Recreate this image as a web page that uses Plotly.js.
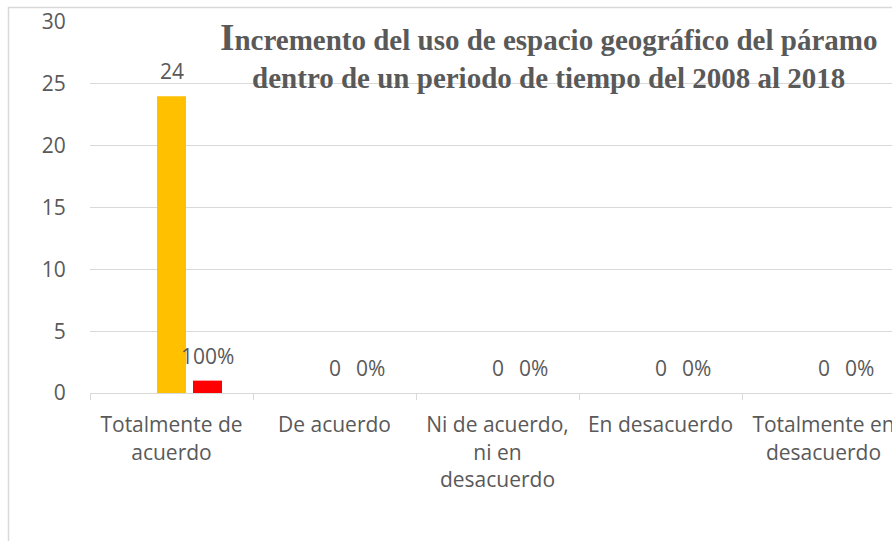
<!DOCTYPE html>
<html>
<head>
<meta charset="utf-8">
<script src="https://cdn.plot.ly/plotly-3.0.1.min.js"></script>
<style>
html,body{margin:0;padding:0;background:#fff;overflow:hidden;width:892px;height:541px;}
#chart{width:920px;height:541px;}
</style>
</head>
<body>
<div id="chart"></div>
<script>
// Data
var categories = ["Totalmente de acuerdo", "De acuerdo", "Ni de acuerdo, ni en desacuerdo", "En desacuerdo", "Totalmente en desacuerdo"];
var tickLabels = ["Totalmente de<br>acuerdo", "De acuerdo", "Ni de acuerdo,<br>ni en<br>desacuerdo", "En desacuerdo", "Totalmente en<br>desacuerdo"];
var frecuencia = [24, 0, 0, 0, 0];
var porcentaje = [1, 0, 0, 0, 0];
var yTicks = [0, 5, 10, 15, 20, 25, 30];
var titleLine1 = "ncremento del uso de espacio geográfico del páramo";
var titleFirst = "I";
var titleLine2 = "dentro de un periodo de tiempo del 2008 al 2018";

var textColor = "#595959";
var gridColor = "#D9D9D9";
var labelFont = {family: "Open Sans", size: 21, color: textColor};

var traces = [
  {type: "bar", name: "Frecuencia", x: categories, y: frecuencia,
   marker: {color: "#FFC000"}, width: 0.178, offset: -0.089, hoverinfo: "x+y"},
  {type: "bar", name: "Porcentaje", x: categories, y: porcentaje,
   marker: {color: "#FF0000"}, width: 0.178, offset: 0.132, hoverinfo: "x+y"}
];

var annotations = [];
categories.forEach(function(c, i) {
  annotations.push({x: c, y: frecuencia[i], xref: "x", yref: "y", text: String(frecuencia[i]),
    showarrow: false, yanchor: "middle", yshift: 25, font: labelFont});
  annotations.push({x: c, y: porcentaje[i], xref: "x", yref: "y", text: Math.round(porcentaje[i] * 100) + "%",
    showarrow: false, yanchor: "middle", yshift: 25, xshift: 36, font: labelFont});
});
annotations.push({
  xref: "paper", yref: "paper", x: 0.562, y: 1 + (22 - 55) / 371, xanchor: "center", yanchor: "middle",
  showarrow: false, align: "center",
  text: "<b><span style='font-size:37px'>" + titleFirst + "</span>" + titleLine1 + "<br>" + titleLine2 + "</b>",
  font: {family: "Liberation Serif", size: 29, color: textColor}
});

var layout = {
  width: 920, height: 541,
  margin: {l: 90, r: 15, t: 22, b: 148, pad: 0},
  paper_bgcolor: "#fff", plot_bgcolor: "#fff",
  showlegend: false,
  barmode: "overlay",
  xaxis: {
    type: "category", tickvals: categories, ticktext: tickLabels,
    showgrid: false, showline: true, linecolor: gridColor, linewidth: 1,
    ticks: "outside", tickson: "boundaries", ticklen: 6, tickcolor: gridColor,
    ticklabelstandoff: 13,
    tickfont: labelFont, zeroline: false, fixedrange: true
  },
  yaxis: {
    range: [0, 30], tickvals: yTicks, showgrid: true, gridcolor: gridColor, gridwidth: 1,
    zeroline: false, showline: false, ticks: "outside", ticklen: 19, tickcolor: "rgba(0,0,0,0)",
    tickfont: labelFont, fixedrange: true
  },
  annotations: annotations,
  shapes: [{
    type: "rect", xref: "paper", yref: "paper",
    x0: (8.5 - 90) / 815, x1: 1.2, y0: -1, y1: 1 + (22 - 7.5) / 371,
    line: {color: gridColor, width: 1.5}, fillcolor: "rgba(0,0,0,0)", layer: "below"
  }]
};

Plotly.newPlot("chart", traces, layout, {displayModeBar: false, staticPlot: true});
</script>
</body>
</html>
